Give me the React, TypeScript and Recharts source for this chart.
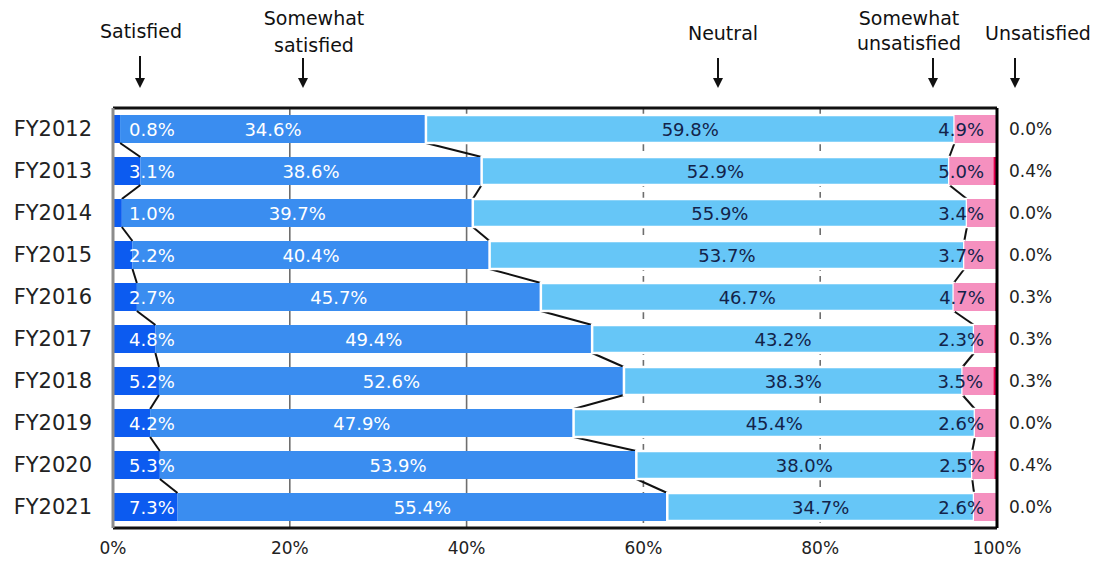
import React from 'react';
import { BarChart, Bar, XAxis, YAxis, CartesianGrid } from 'recharts';

const FONT = '"DejaVu Sans", sans-serif';

const years = ['FY2012', 'FY2013', 'FY2014', 'FY2015', 'FY2016', 'FY2017', 'FY2018', 'FY2019', 'FY2020', 'FY2021'];
const satisfied = [0.8, 3.1, 1.0, 2.2, 2.7, 4.8, 5.2, 4.2, 5.3, 7.3];
const somewhatSatisfied = [34.6, 38.6, 39.7, 40.4, 45.7, 49.4, 52.6, 47.9, 53.9, 55.4];
const neutral = [59.8, 52.9, 55.9, 53.7, 46.7, 43.2, 38.3, 45.4, 38.0, 34.7];
const somewhatUnsatisfied = [4.9, 5.0, 3.4, 3.7, 4.7, 2.3, 3.5, 2.6, 2.5, 2.6];
const unsatisfied = [0.0, 0.4, 0.0, 0.0, 0.3, 0.3, 0.3, 0.0, 0.4, 0.0];
const xTicks = [0, 20, 40, 60, 80, 100];
const legendLines = [['Satisfied'], ['Somewhat', 'satisfied'], ['Neutral'], ['Somewhat', 'unsatisfied'], ['Unsatisfied']];

const data = years.map((year, i) => ({
  year,
  sat: satisfied[i],
  ss: somewhatSatisfied[i],
  neu: neutral[i],
  sun: somewhatUnsatisfied[i],
  uns: unsatisfied[i],
}));

// layout
const W = 1096;
const H = 570;
const Y_LEFT_W = 113;
const Y_RIGHT_W = 99;
const TOP_AXIS_H = 8;
const BOTTOM_AXIS_H = 40;
const MARGIN = { top: 108 - TOP_AXIS_H, right: 0, bottom: 2, left: 0 };
const GAP = 7;
const PLOT_L = Y_LEFT_W;
const PLOT_R = W - Y_RIGHT_W;

// legend layout: text centre x, arrow x, baselines of lines, arrow top
const legendLayout = [
  { cx: 141, ax: 140, base: [38], top: 56 },
  { cx: 314, ax: 303, base: [25, 52], top: 58 },
  { cx: 723, ax: 718, base: [40], top: 58 },
  { cx: 909, ax: 933, base: [25, 50], top: 58 },
  { cx: 1038, ax: 1015, base: [40], top: 58 },
];

const COLORS = { sat: '#0c5bf0', ss: '#3a8df0', neu: '#66c6f7', sun: '#f590bf', uns: '#e4004f' };
const DARK = '#13234a';
const pct = (v: number) => `${v.toFixed(1)}%`;

function SatShape(p: any) {
  const { x, y, width, height } = p;
  if (!(width > 0)) return <g />;
  return <rect x={x} y={y} width={width} height={height} fill={COLORS.sat} />;
}

const cum = (i: number) => [
  satisfied[i],
  satisfied[i] + somewhatSatisfied[i],
  satisfied[i] + somewhatSatisfied[i] + neutral[i],
];

function SsShape(p: any) {
  const { x, y, width, height, index } = p;
  const k = width / somewhatSatisfied[index];
  const x0 = x - satisfied[index] * k;
  const cy = y + height / 2;
  const connectors: React.ReactNode[] = [];
  if (index < years.length - 1) {
    const a = cum(index);
    const b = cum(index + 1);
    const yNext = y + height + 2 * GAP;
    a.forEach((v, j) => {
      connectors.push(
        <line key={j} x1={x0 + v * k} y1={y + height} x2={x0 + b[j] * k} y2={yNext} stroke="#111" strokeWidth={2} />
      );
    });
  }
  return (
    <g>
      <rect x={x} y={y} width={width} height={height} fill={COLORS.ss} />
      {connectors}
      <text x={x0 + 16} y={cy} fill="#fff" fontSize={18} fontFamily={FONT} dominantBaseline="central">
        {pct(satisfied[index])}
      </text>
      <text x={x + width / 2} y={cy} fill="#fff" fontSize={18} fontFamily={FONT} textAnchor="middle" dominantBaseline="central">
        {pct(somewhatSatisfied[index])}
      </text>
    </g>
  );
}

function NeuShape(p: any) {
  const { x, y, width, height, index } = p;
  return (
    <g>
      <rect x={x} y={y} width={width} height={height} fill={COLORS.neu} stroke="#ffffff" strokeWidth={2.5} />
      <text x={x + width / 2} y={y + height / 2} fill={DARK} fontSize={18} fontFamily={FONT} textAnchor="middle" dominantBaseline="central">
        {pct(neutral[index])}
      </text>
    </g>
  );
}

function SunShape(p: any) {
  const { x, y, width, height, index } = p;
  const k = width / somewhatUnsatisfied[index];
  const end = x + width + unsatisfied[index] * k;
  return (
    <g>
      <rect x={x} y={y} width={width} height={height} fill={COLORS.sun} />
      <text x={end - 13} y={y + height / 2} fill={DARK} fontSize={18} fontFamily={FONT} textAnchor="end" dominantBaseline="central">
        {pct(somewhatUnsatisfied[index])}
      </text>
    </g>
  );
}

function UnsShape(p: any) {
  const { x, y, width, height } = p;
  if (!(width > 0)) return <g />;
  return <rect x={x} y={y} width={width} height={height} fill={COLORS.uns} />;
}

const gridLine = (p: any) => {
  const x = p.x1;
  const key = `gl-${p.index}`;
  if (x < PLOT_L + 5 || x > PLOT_R - 5) return <g key={key} />;
  const dashed = x > (PLOT_L + PLOT_R) / 2;
  return (
    <line key={key} x1={x} x2={x} y1={p.y1} y2={p.y2} stroke="#6e6e6e" strokeWidth={1.6}
      strokeDasharray={dashed ? '7 5' : undefined} />
  );
};

function Legend() {
  return (
    <svg width={W} height={100} style={{ position: 'absolute', left: 0, top: 0, pointerEvents: 'none' }}>
      {legendLines.map((lines, i) => {
        const L = legendLayout[i];
        return (
          <g key={i}>
            {lines.map((t, j) => (
              <text key={j} x={L.cx} y={L.base[j]} textAnchor="middle" fontSize={19} fontFamily={FONT} fill="#111">
                {t}
              </text>
            ))}
            <line x1={L.ax} x2={L.ax} y1={L.top} y2={80} stroke="#111" strokeWidth={2} />
            <polygon points={`${L.ax - 5},${78} ${L.ax + 5},${78} ${L.ax},${88}`} fill="#111" />
          </g>
        );
      })}
    </svg>
  );
}

export default function App() {
  return (
    <div style={{ position: 'absolute', left: 0, top: 0, width: W, height: H, background: '#fff' }}>
      <BarChart
        width={W}
        height={H}
        data={data}
        layout="vertical"
        margin={MARGIN}
        barCategoryGap={GAP}
      >
        <CartesianGrid xAxisId="bottom" yAxisId="left" horizontal={false} vertical={gridLine} />
        <XAxis
          xAxisId="top"
          orientation="top"
          type="number"
          domain={[0, 100]}
          ticks={xTicks}
          allowDataOverflow
          height={TOP_AXIS_H}
          tick={false}
          tickSize={6}
          axisLine={{ stroke: '#111', strokeWidth: 3 }}
          tickLine={{ stroke: '#777', strokeWidth: 1.5 }}
        />
        <XAxis
          xAxisId="bottom"
          type="number"
          domain={[0, 100]}
          ticks={xTicks}
          allowDataOverflow
          interval={0}
          height={BOTTOM_AXIS_H}
          tickFormatter={(v: number) => `${v}%`}
          tickLine={false}
          tickSize={0}
          tickMargin={14}
          axisLine={{ stroke: '#111', strokeWidth: 3 }}
          tick={{ fontSize: 17, fill: '#222', fontFamily: FONT }}
        />
        <YAxis
          yAxisId="left"
          type="category"
          dataKey="year"
          width={Y_LEFT_W}
          interval={0}
          tickLine={false}
          tickSize={0}
          tickMargin={21}
          axisLine={{ stroke: '#8c8c8c', strokeWidth: 3 }}
          tick={{ fontSize: 21, fill: '#222', fontFamily: FONT }}
        />
        <YAxis
          yAxisId="right"
          orientation="right"
          type="category"
          dataKey="year"
          width={Y_RIGHT_W}
          interval={0}
          tickLine={false}
          tickSize={0}
          tickMargin={12}
          axisLine={{ stroke: '#000', strokeWidth: 3 }}
          tick={{ fontSize: 17, fill: '#222', fontFamily: FONT }}
          tickFormatter={(v: string) => pct(unsatisfied[years.indexOf(v)])}
        />
        <Bar xAxisId="bottom" yAxisId="left" dataKey="sat" name="Satisfied" stackId="s" fill={COLORS.sat} shape={SatShape} isAnimationActive={false} />
        <Bar xAxisId="bottom" yAxisId="left" dataKey="ss" name="Somewhat satisfied" stackId="s" fill={COLORS.ss} shape={SsShape} isAnimationActive={false} />
        <Bar xAxisId="bottom" yAxisId="left" dataKey="neu" name="Neutral" stackId="s" fill={COLORS.neu} shape={NeuShape} isAnimationActive={false} />
        <Bar xAxisId="bottom" yAxisId="left" dataKey="sun" name="Somewhat unsatisfied" stackId="s" fill={COLORS.sun} shape={SunShape} isAnimationActive={false} />
        <Bar xAxisId="bottom" yAxisId="left" dataKey="uns" name="Unsatisfied" stackId="s" fill={COLORS.uns} shape={UnsShape} isAnimationActive={false} />
      </BarChart>
      <Legend />
    </div>
  );
}
